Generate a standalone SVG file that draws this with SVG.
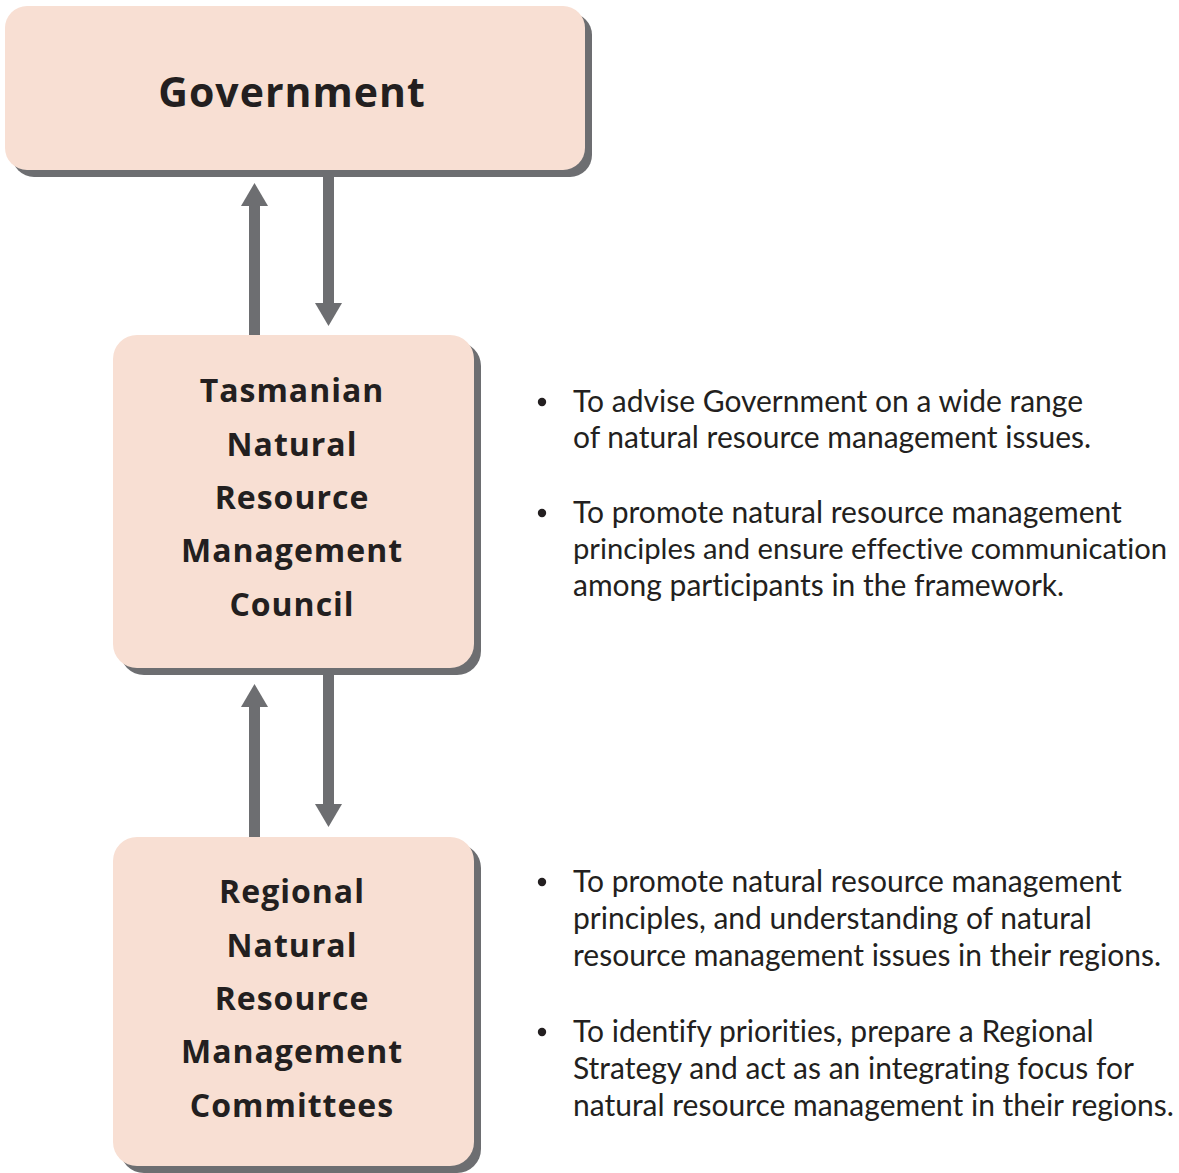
<svg xmlns="http://www.w3.org/2000/svg" width="1179" height="1173" viewBox="0 0 1179 1173">
<defs>
<style>
.box{fill:#f8dfd3}
.shadow{fill:#6d6e71}
.title{font-family:"Open Sans","Lato",sans-serif;font-weight:bold;fill:#231f20;text-anchor:middle;letter-spacing:1px}
.body{font-family:"Lato","Liberation Sans",sans-serif;font-size:30px;fill:#231f20;font-variant-ligatures:none}
.bullet{fill:#231f20}
.conn{stroke:#6d6e71;stroke-width:11;fill:none}
</style>
<marker id="head" viewBox="0 0 23 27" refX="0" refY="13.5" markerWidth="23" markerHeight="27" markerUnits="userSpaceOnUse" orient="auto">
<path d="M0,0 L23,13.5 L0,27 Z" fill="#6d6e71"/>
</marker>
</defs>
<rect width="1179" height="1173" fill="#ffffff"/>

<g id="connectors">
<line class="conn" x1="254.5" y1="336" x2="254.5" y2="206" marker-end="url(#head)"/>
<line class="conn" x1="328.5" y1="176" x2="328.5" y2="303" marker-end="url(#head)"/>
<line class="conn" x1="254.5" y1="838" x2="254.5" y2="707" marker-end="url(#head)"/>
<line class="conn" x1="328.5" y1="675" x2="328.5" y2="804" marker-end="url(#head)"/>
</g>

<g id="government">
<rect class="shadow" x="12" y="13" width="580" height="164" rx="22"/>
<rect class="box" x="5" y="6" width="580" height="164" rx="22"/>
<text class="title" x="292" y="107" font-size="41">Government</text>
</g>

<g id="council">
<rect class="shadow" x="120" y="342" width="361" height="333" rx="24"/>
<rect class="box" x="113" y="335" width="361" height="333" rx="24"/>
<text class="title" font-size="32" x="292" y="402">Tasmanian</text>
<text class="title" font-size="32" x="292" y="456">Natural</text>
<text class="title" font-size="32" x="292" y="509">Resource</text>
<text class="title" font-size="32" x="292" y="562">Management</text>
<text class="title" font-size="32" x="292" y="616">Council</text>
</g>

<g id="committees">
<rect class="shadow" x="120" y="844" width="361" height="329" rx="24"/>
<rect class="box" x="113" y="837" width="361" height="329" rx="24"/>
<text class="title" font-size="32" x="292" y="903">Regional</text>
<text class="title" font-size="32" x="292" y="957">Natural</text>
<text class="title" font-size="32" x="292" y="1010">Resource</text>
<text class="title" font-size="32" x="292" y="1063">Management</text>
<text class="title" font-size="32" x="292" y="1117">Committees</text>
</g>

<g id="council-roles">
<circle class="bullet" cx="542" cy="402" r="4.2"/>
<text class="body" x="573" y="412">To advise Government on a wide range</text>
<text class="body" x="573" y="448">of natural resource management issues.</text>
<circle class="bullet" cx="542" cy="513" r="4.2"/>
<text class="body" x="573" y="523">To promote natural resource management</text>
<text class="body" x="573" y="559" font-size="29.2" style="font-size:29.2px">principles and ensure effective communication</text>
<text class="body" x="573" y="596">among participants in the framework.</text>
</g>

<g id="committee-roles">
<circle class="bullet" cx="542" cy="882" r="4.2"/>
<text class="body" x="573" y="892">To promote natural resource management</text>
<text class="body" x="573" y="929">principles, and understanding of natural</text>
<text class="body" x="573" y="966">resource management issues in their regions.</text>
<circle class="bullet" cx="542" cy="1032" r="4.2"/>
<text class="body" x="573" y="1042">To identify priorities, prepare a Regional</text>
<text class="body" x="573" y="1079">Strategy and act as an integrating focus for</text>
<text class="body" x="573" y="1116">natural resource management in their regions.</text>
</g>
</svg>
